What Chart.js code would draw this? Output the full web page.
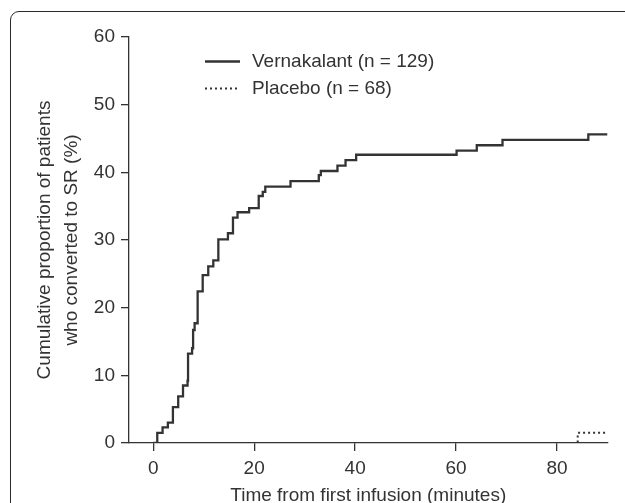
<!DOCTYPE html>
<html>
<head>
<meta charset="utf-8">
<script src="https://cdn.jsdelivr.net/npm/chart.js@4.4.0/dist/chart.umd.min.js"></script>
<style>
  html, body { margin: 0; padding: 0; background: #fff; overflow: hidden; }
  #wrap { position: relative; width: 625px; height: 503px; }
  #frame {
    position: absolute; left: 10px; top: 10.5px; width: 700px; height: 600px;
    border: 1.4px solid #2a2a2a; border-top-left-radius: 9px; box-sizing: border-box;
  }
  #chart { position: absolute; left: 0; top: 0; }
</style>
</head>
<body>
<div id="wrap">
  <div id="frame"></div>
  <canvas id="chart" width="625" height="503"></canvas>
</div>
<script>
  const INK = '#333333';
  const FONT = "'Liberation Sans', Arial, Helvetica, sans-serif";
  const FS = 19;

  // time (minutes) at which each step starts, and cumulative % converted
  const VERNA_T = [0, 0.8, 1.85, 2.9, 3.9, 4.95, 5.9, 6.8, 6.9, 7.7, 7.9, 8.2, 8.8, 9.8, 10.9,
                   11.9, 12.9, 14.8, 15.8, 16.7, 19.0, 20.9, 21.7, 22.2, 27.2, 32.8, 33.2,
                   36.5, 38.1, 40.2, 60.1, 64.1, 69.2, 86.2, 90];
  const VERNA_V = [0, 1.5, 2.3, 3.0, 5.3, 6.9, 8.5, 9.2, 13.2, 14.0, 16.7, 17.7, 22.4, 24.8, 26.1,
                   27.0, 30.1, 31.0, 33.3, 34.1, 34.7, 36.5, 37.1, 37.9, 38.7, 39.6, 40.2,
                   41.0, 41.8, 42.6, 43.2, 44.0, 44.8, 45.6, 45.6];
  const PLACEBO_T = [0, 84.1, 90];
  const PLACEBO_V = [0, 1.5, 1.5];

  const X_TICKS = [0, 20, 40, 60, 80];
  const Y_TICKS = [0, 10, 20, 30, 40, 50, 60];
  const LABELS = ['Vernakalant (n = 129)', 'Placebo (n = 68)'];
  const X_TITLE = 'Time from first infusion (minutes)';
  const Y_TITLE = ['Cumulative proportion of patients', 'who converted to SR (%)'];

  const pts = (ts, vs) => ts.map((t, i) => ({ x: t, y: vs[i] }));

  // legend drawn inside the plot, top left
  const insetLegend = {
    id: 'insetLegend',
    afterDraw(chart) {
      const ctx = chart.ctx;
      ctx.save();
      chart.data.datasets.forEach((ds, i) => {
        const y = 61.5 + i * 27;
        ctx.strokeStyle = ds.borderColor;
        ctx.lineWidth = ds.borderWidth;
        ctx.setLineDash(ds.borderDash || []);
        ctx.beginPath();
        ctx.moveTo(205, y);
        ctx.lineTo(240, y);
        ctx.stroke();
        ctx.setLineDash([]);
        ctx.fillStyle = INK;
        ctx.font = FS + 'px ' + FONT;
        ctx.textBaseline = 'middle';
        ctx.textAlign = 'left';
        ctx.fillText(ds.label, 252, y);
      });
      ctx.restore();
    }
  };

  new Chart(document.getElementById('chart'), {
    type: 'line',
    data: {
      datasets: [
        {
          label: LABELS[0],
          data: pts(VERNA_T, VERNA_V),
          stepped: 'before',
          borderColor: INK,
          borderWidth: 2.3,
          pointRadius: 0,
          fill: false,
        },
        {
          label: LABELS[1],
          data: pts(PLACEBO_T, PLACEBO_V),
          stepped: 'before',
          borderColor: INK,
          borderWidth: 2,
          borderDash: [2, 3],
          pointRadius: 0,
          fill: false,
        },
      ],
    },
    options: {
      responsive: false,
      animation: false,
      layout: { padding: { left: 0, right: 17.5, top: 37, bottom: 0 } },
      plugins: { legend: { display: false }, tooltip: { enabled: false } },
      scales: {
        x: {
          type: 'linear',
          min: -4.8,
          max: 90,
          afterBuildTicks: s => { s.ticks = X_TICKS.map(v => ({ value: v })); },
          afterFit: s => { s.height = 60; },
          grid: { display: true, drawOnChartArea: false, drawTicks: true, tickLength: 8, color: INK, lineWidth: 1.3 },
          border: { display: true, color: INK, width: 1.3 },
          ticks: { color: INK, font: { family: FONT, size: FS }, padding: 6, maxRotation: 0 },
          title: {
            display: true,
            text: X_TITLE,
            color: INK,
            font: { family: FONT, size: FS, lineHeight: 0.75 },
            padding: { top: 0, bottom: 0 },
          },
        },
        y: {
          type: 'linear',
          min: 0,
          max: 60,
          afterBuildTicks: s => { s.ticks = Y_TICKS.map(v => ({ value: v })); },
          afterFit: s => { s.width = 129; },
          grid: { display: true, drawOnChartArea: false, drawTicks: true, tickLength: 8, color: INK, lineWidth: 1.3 },
          border: { display: true, color: INK, width: 1.3 },
          ticks: { color: INK, font: { family: FONT, size: FS }, padding: 6 },
          title: {
            display: true,
            text: Y_TITLE,
            color: INK,
            font: { family: FONT, size: FS, lineHeight: '27px' },
            padding: { top: 31.5, bottom: 0 },
          },
        },
      },
    },
    plugins: [insetLegend],
  });
</script>
</body>
</html>
